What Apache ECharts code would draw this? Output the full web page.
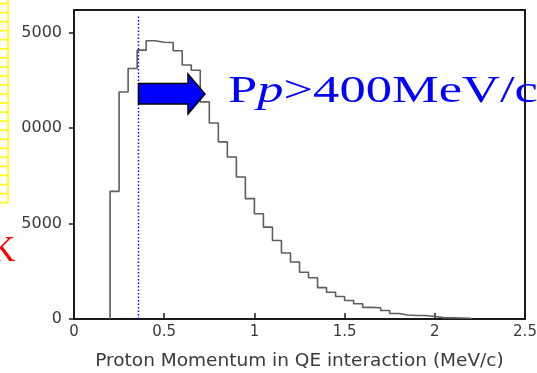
<!DOCTYPE html>
<html>
<head>
<meta charset="utf-8">
<script src="https://cdn.jsdelivr.net/npm/echarts@6/dist/echarts.min.js"></script>
<style>
  html, body { margin: 0; padding: 0; background: #ffffff; }
  #chart { width: 537px; height: 373px; }
</style>
</head>
<body>
<div id="chart"></div>
<script>
// Left edges of the 0.05 MeV/c momentum bins
const binLeft = [
  0.20, 0.25, 0.30, 0.35, 0.40, 0.45, 0.50, 0.55, 0.60, 0.65,
  0.70, 0.75, 0.80, 0.85, 0.90, 0.95, 1.00, 1.05, 1.10, 1.15,
  1.20, 1.25, 1.30, 1.35, 1.40, 1.45, 1.50, 1.55, 1.60, 1.65,
  1.70, 1.75, 1.80, 1.85, 1.90, 1.95, 2.00, 2.05, 2.10, 2.15
];
const histEnd = 2.20;
// Entries per bin
const counts = [
  6680, 11880, 13110, 14070, 14560, 14480, 14470, 14040, 13290, 13020,
  11360, 10260, 9270, 8480, 7430, 6300, 5510, 4810, 4110, 3450,
  2980, 2450, 2160, 1640, 1400, 1180, 970, 800, 610, 590,
  445, 290, 210, 185, 180, 130, 70, 60, 50, 40
];
// Momentum cut marker position
const cutMomentum = 0.355;
const cutTop = 15850;

const xTickValues = [0, 0.5, 1, 1.5, 2, 2.5];
const xTickLabels = ['0', '0.5', '1', '1.5', '2', '2.5'];
const yTickValues = [0, 5000, 10000, 15000];
const yTickLabels = ['0', '5000', '0000', '5000'];

const xTitle = 'Proton Momentum in QE interaction (MeV/c)';
const cutText = 'P{i|p}>400MeV/c';

// Step outline: start on the baseline, then one point per bin, close at the end edge
const stepData = [[binLeft[0], 0]];
binLeft.forEach((x, i) => stepData.push([x, counts[i]]));
stepData.push([histEnd, 0]);

const labelColor = '#3a3a3a';

const chart = echarts.init(document.getElementById('chart'), null, { renderer: 'canvas' });

// Yellow table edge along the left border
const yellowLines = [];
yellowLines.push({ type: 'line', shape: { x1: 8, y1: 0, x2: 8, y2: 203 },
  style: { stroke: '#ffff00', lineWidth: 1.6 }, silent: true, z: 50 });
for (let k = 0; k < 23; k++) {
  const yy = Math.min(203, 3.5 + k * 9.05);
  yellowLines.push({ type: 'line', shape: { x1: 0, y1: yy, x2: 8, y2: yy },
    style: { stroke: '#ffff00', lineWidth: 1.6 }, silent: true, z: 50 });
}

chart.setOption({
  animation: false,
  backgroundColor: '#ffffff',
  grid: {
    left: 74, right: 12, top: 10, bottom: 54,
    outerBoundsMode: 'none', containLabel: false,
    show: true, borderColor: '#1a1a1a', borderWidth: 2, backgroundColor: 'transparent'
  },
  xAxis: {
    type: 'value', min: 0, max: 2.5, interval: 0.5,
    name: xTitle, nameLocation: 'middle', nameGap: 33,
    nameTextStyle: { fontFamily: 'DejaVu Sans', fontSize: 18.5, color: labelColor },
    axisLine: { show: true, lineStyle: { color: '#1a1a1a', width: 2 } },
    axisTick: { show: true, inside: true, length: 6, lineStyle: { color: '#1a1a1a', width: 1.5 } },
    axisLabel: {
      margin: 6, fontFamily: 'DejaVu Sans', fontSize: 15, color: labelColor,
      formatter: v => { const i = xTickValues.indexOf(v); return i >= 0 ? xTickLabels[i] : ''; }
    },
    splitLine: { show: false }
  },
  yAxis: {
    type: 'value', min: 0, max: 16170, interval: 5000,
    axisLine: { show: true, lineStyle: { color: '#1a1a1a', width: 2 } },
    axisTick: { show: true, inside: false, length: 5, customValues: yTickValues,
      lineStyle: { color: '#1a1a1a', width: 1.5 } },
    axisLabel: {
      margin: 12, fontFamily: 'DejaVu Sans', fontSize: 16, color: labelColor,
      customValues: yTickValues,
      formatter: v => { const i = yTickValues.indexOf(v); return i >= 0 ? yTickLabels[i] : ''; }
    },
    splitLine: { show: false }
  },
  series: [{
    type: 'line',
    step: 'end',
    data: stepData,
    symbol: 'none',
    lineStyle: { color: '#5e5e5e', width: 1.6 },
    z: 3,
    markLine: {
      silent: true,
      symbol: 'none',
      label: { show: false },
      lineStyle: { color: '#0000ff', width: 1.4, type: [1.5, 2] },
      data: [[{ coord: [cutMomentum, 0] }, { coord: [cutMomentum, cutTop] }]]
    }
  }],
  graphic: yellowLines.concat([
    {
      type: 'polygon', z: 100, silent: true,
      shape: { points: [[138.5, 83.5], [188, 83.5], [188, 74], [205, 94], [188, 114], [188, 104], [138.5, 104]] },
      style: { fill: '#0000ff', stroke: '#000000', lineWidth: 1.5 }
    },
    {
      type: 'text', z: 100, silent: true,
      x: 228, y: 92, scaleX: 1.42, scaleY: 1,
      style: {
        text: cutText,
        fontFamily: 'Liberation Serif', fontSize: 37, fill: '#0000ff',
        align: 'left', verticalAlign: 'middle',
        rich: { i: { fontFamily: 'Liberation Serif', fontSize: 37, fontStyle: 'italic', fill: '#0000ff' } }
      }
    },
    {
      type: 'text', z: 100, silent: true,
      x: -10, y: 252,
      style: {
        text: 'K', fontFamily: 'Liberation Serif', fontSize: 35, fill: '#ff0000',
        align: 'left', verticalAlign: 'middle'
      }
    }
  ])
});
</script>
</body>
</html>
